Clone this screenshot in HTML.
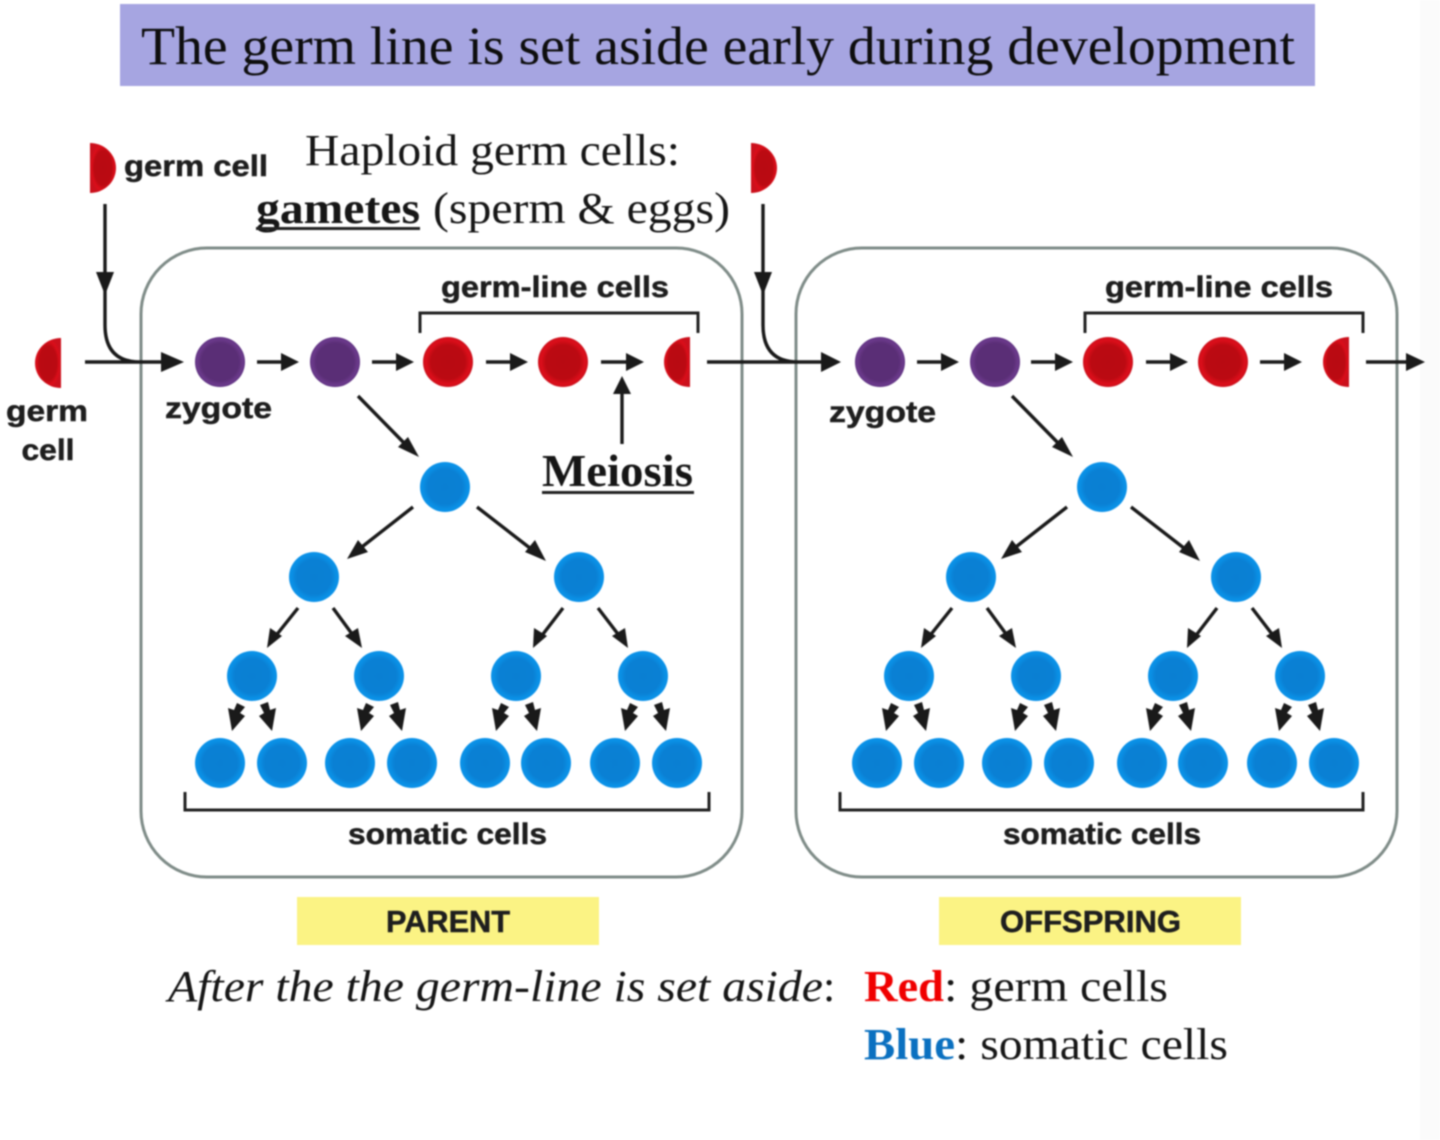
<!DOCTYPE html>
<html><head><meta charset="utf-8"><style>
html,body{margin:0;padding:0;background:#fff;width:1440px;height:1140px;overflow:hidden}
svg{display:block;filter:blur(.9px)}
.s{font-family:"Liberation Sans",sans-serif;font-weight:bold;fill:#1e1e1e;stroke:#1e1e1e;stroke-width:.5}
.t{font-family:"Liberation Serif",serif;fill:#161616}
.l{fill:none;stroke:#222;stroke-width:3}
.a{fill:none;stroke:#1a1a1a;stroke-width:3.4}
.h{fill:#1a1a1a}
</style></head><body>
<svg width="1440" height="1140" viewBox="0 0 1440 1140" xmlns="http://www.w3.org/2000/svg">
<defs>
<radialGradient id="bg" cx=".5" cy=".5" r=".5"><stop offset="0" stop-color="#0a7fd2"/><stop offset=".7" stop-color="#0a80d4"/><stop offset=".88" stop-color="#0a8fe4"/><stop offset="1" stop-color="#0a92ea"/></radialGradient>
<radialGradient id="rg" cx=".5" cy=".5" r=".5"><stop offset="0" stop-color="#b80a12"/><stop offset=".68" stop-color="#bb0a12"/><stop offset=".88" stop-color="#dc0e1a"/><stop offset="1" stop-color="#cc101c"/></radialGradient>
<radialGradient id="pg" cx=".5" cy=".5" r=".5"><stop offset="0" stop-color="#5a2e76"/><stop offset=".75" stop-color="#5a2e76"/><stop offset=".92" stop-color="#6c3a8c"/><stop offset="1" stop-color="#5c3080"/></radialGradient>
<circle id="B" r="25" fill="url(#bg)"/>
<circle id="R" r="25" fill="url(#rg)"/>
<circle id="P" r="25" fill="url(#pg)"/>
<path id="H" d="M0,-25A26,25 0 0 0 0,25Z" fill="url(#rg)"/>
<path id="F" d="M0,-25A26,25 0 0 1 0,25Z" fill="url(#rg)"/>
<g id="cells">
<use href="#B" x="445" y="487"/><use href="#B" x="314" y="577"/><use href="#B" x="579" y="577"/>
<use href="#B" x="252" y="676"/><use href="#B" x="379" y="676"/><use href="#B" x="516" y="676"/><use href="#B" x="643" y="676"/>
<use href="#B" x="220" y="763"/><use href="#B" x="282" y="763"/><use href="#B" x="350" y="763"/><use href="#B" x="412" y="763"/>
<use href="#B" x="485" y="763"/><use href="#B" x="546" y="763"/><use href="#B" x="615" y="763"/><use href="#B" x="677" y="763"/>
</g>
<g id="arrows">
<path class="a" d="M358,396L408,447M413,507L358,550M477,507L535,552M298,608L274,638M333,608L355,638M563,608L540,638M598,608L621,638"/>
<path class="h" d="M419,457L398,447L408,437ZM347,559L358,540L368,552ZM546,561L525,552L535,540ZM267,648L270,628L282,636ZM362,648L345,636L358,628ZM533,648L534,628L547,636ZM628,648L612,636L625,628Z"/>
<path class="h" d="M232,731L228,708L234,710L237,703L245,707L240,713L245,716ZM272,731L259,716L264,713L260,705L268,702L270,710L276,708ZM361,731L357,708L363,710L366,703L374,707L369,713L374,716ZM402,731L389,716L394,713L390,705L398,702L400,710L406,708ZM496,731L492,708L498,710L501,703L509,707L504,713L509,716ZM537,731L524,716L529,713L525,705L533,702L535,710L541,708ZM625,731L621,708L627,710L630,703L638,707L633,713L638,716ZM666,731L653,716L658,713L654,705L662,702L664,710L670,708Z"/>
</g>
</defs>
<rect x="1420" y="0" width="20" height="1140" fill="#fbfbfb"/>
<rect x="120" y="4" width="1195" height="82" fill="#a6a5e1"/>
<text class="t" x="141" y="64" font-size="54" textLength="1154" lengthAdjust="spacingAndGlyphs" style="fill:#0e0e0e">The germ line is set aside early during development</text>

<rect x="141" y="248" width="601" height="629" rx="66" fill="none" stroke="#7f8c88" stroke-width="3"/>
<rect x="796" y="248" width="601" height="629" rx="66" fill="none" stroke="#7f8c88" stroke-width="3"/>

<text class="t" x="305" y="165" font-size="44" textLength="375" lengthAdjust="spacingAndGlyphs">Haploid germ cells:</text>
<text class="t" x="256" y="223" font-size="44" font-weight="bold" textLength="164" lengthAdjust="spacingAndGlyphs">gametes</text>
<rect x="256" y="227" width="164" height="3" fill="#222"/>
<text class="t" x="433" y="223" font-size="44" textLength="297" lengthAdjust="spacingAndGlyphs">(sperm &amp; eggs)</text>

<use href="#F" x="90" y="168"/><use href="#F" x="751" y="168"/>
<text class="s" x="124" y="176" font-size="30" textLength="144" lengthAdjust="spacingAndGlyphs">germ cell</text>
<use href="#H" x="61" y="363"/>
<text class="s" x="47" y="421" font-size="30" text-anchor="middle" textLength="82" lengthAdjust="spacingAndGlyphs">germ</text>
<text class="s" x="48" y="460" font-size="30" text-anchor="middle" textLength="53" lengthAdjust="spacingAndGlyphs">cell</text>
<text class="s" x="165" y="418" font-size="30" textLength="107" lengthAdjust="spacingAndGlyphs">zygote</text>
<text class="s" x="829" y="422" font-size="30" textLength="107" lengthAdjust="spacingAndGlyphs">zygote</text>

<use href="#P" x="220" y="362"/><use href="#P" x="335" y="362"/><use href="#R" x="448" y="362"/><use href="#R" x="563" y="362"/><use href="#H" x="690" y="362"/>
<use href="#P" x="880" y="362"/><use href="#P" x="995" y="362"/><use href="#R" x="1108" y="362"/><use href="#R" x="1223" y="362"/><use href="#H" x="1349" y="362"/>

<path class="a" d="M85,362H165M105,204V325Q105,362 140,362H165"/>
<path class="a" d="M257,362H285M372,362H400M486,362H514M601,362H630M707,362H825M763,204V325Q763,362 798,362M917,362H945M1031,362H1059M1146,362H1174M1260,362H1288M1366,362H1410"/>
<path class="h" d="M184,362L161,352V372ZM299,362L281,353V371ZM414,362L396,353V371ZM528,362L510,353V371ZM644,362L626,353V371ZM841,362L821,352V372ZM959,362L941,353V371ZM1073,362L1055,353V371ZM1188,362L1170,353V371ZM1302,362L1284,353V371ZM1425,362L1406,353V371ZM105,295L96,272H114ZM763,295L754,272H772Z"/>
<path class="a" d="M622,444V390"/><path class="h" d="M622,376L613,394H631Z"/>

<text class="s" x="441" y="297" font-size="30" textLength="228" lengthAdjust="spacingAndGlyphs">germ-line cells</text>
<text class="s" x="1105" y="297" font-size="30" textLength="228" lengthAdjust="spacingAndGlyphs">germ-line cells</text>
<path class="l" d="M420,333V313H698V333M1085,333V313H1363V333"/>
<text class="t" x="542" y="486" font-size="46" font-weight="bold" textLength="151" lengthAdjust="spacingAndGlyphs">Meiosis</text>
<rect x="542" y="491" width="152" height="3" fill="#222"/>

<use href="#cells"/><use href="#arrows"/>
<use href="#cells" x="657"/><use href="#arrows" x="654"/>

<path class="l" d="M185,792V810H709V792M840,792V810H1363V792"/>
<text class="s" x="348" y="844" font-size="30" textLength="199" lengthAdjust="spacingAndGlyphs">somatic cells</text>
<text class="s" x="1003" y="844" font-size="30" textLength="198" lengthAdjust="spacingAndGlyphs">somatic cells</text>

<rect x="297" y="897" width="302" height="48" fill="#fbf384"/>
<rect x="939" y="897" width="302" height="48" fill="#fbf384"/>
<text class="s" x="386" y="932" font-size="31" textLength="124" lengthAdjust="spacingAndGlyphs">PARENT</text>
<text class="s" x="1000" y="932" font-size="31" textLength="181" lengthAdjust="spacingAndGlyphs">OFFSPRING</text>

<text class="t" x="168" y="1001" font-size="44" font-style="italic" textLength="655" lengthAdjust="spacingAndGlyphs">After the the germ-line is set aside</text>
<text class="t" x="823" y="1001" font-size="44">:</text>
<text class="t" x="864" y="1001" font-size="44" font-weight="bold" style="fill:#f00000" textLength="80" lengthAdjust="spacingAndGlyphs">Red</text>
<text class="t" x="944" y="1001" font-size="44" textLength="224" lengthAdjust="spacingAndGlyphs">: germ cells</text>
<text class="t" x="864" y="1059" font-size="44" font-weight="bold" style="fill:#0a70c0" textLength="91" lengthAdjust="spacingAndGlyphs">Blue</text>
<text class="t" x="955" y="1059" font-size="44" textLength="273" lengthAdjust="spacingAndGlyphs">: somatic cells</text>
</svg>
</body></html>
